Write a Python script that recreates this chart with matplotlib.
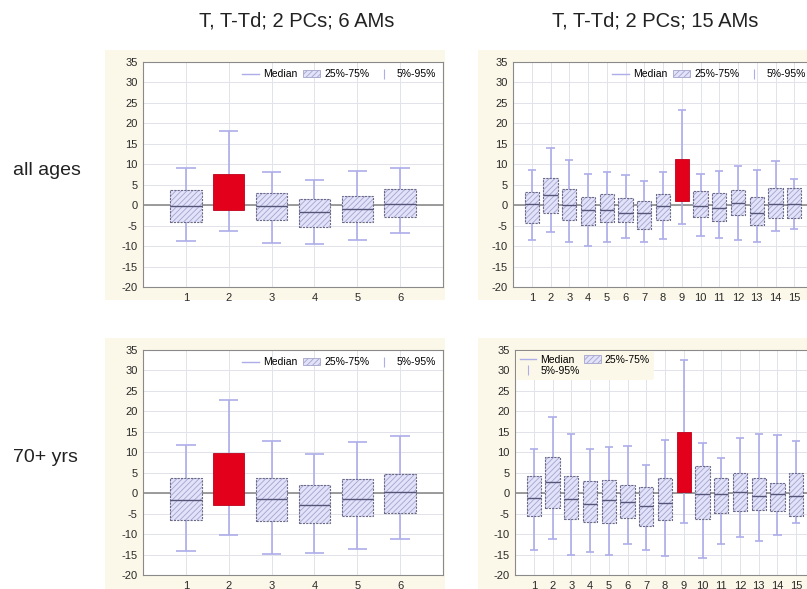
import matplotlib
matplotlib.use("Agg")
import matplotlib.pyplot as plt
from matplotlib.lines import Line2D
from matplotlib.patches import Patch, Rectangle
import numpy as np

plt.rcParams["font.family"] = ["Liberation Sans", "DejaVu Sans"]
plt.rcParams["hatch.linewidth"] = 0.6
plt.rcParams["axes.unicode_minus"] = False

col_titles = ["T, T-Td; 2 PCs; 6 AMs", "T, T-Td; 2 PCs; 15 AMs"]
row_titles = ["all ages", "70+ yrs"]
highlight = [2, 9]  # 6-AM panel, 15-AM panel

# all ages, 6 AMs
p1_q3 = [3.6, 7.7, 3.1, 1.5, 2.3, 4.0]
p1_q1 = [-4.1, -1.1, -3.7, -5.3, -4.1, -2.8]
p1_med = [-0.3, 3.0, -0.3, -1.6, -1.0, 0.3]
p1_hi = [9.2, 18.2, 8.0, 6.1, 8.3, 9.2]
p1_lo = [-8.7, -6.4, -9.3, -9.5, -8.4, -6.7]

# all ages, 15 AMs
p2_q3 = [3.3, 6.7, 4.0, 1.9, 2.7, 1.7, 1.1, 2.7, 11.3, 3.5, 2.9, 3.7, 1.9, 4.1, 4.3]
p2_q1 = [-4.3, -1.8, -3.6, -4.9, -4.1, -4.2, -5.7, -3.7, 1.1, -3.0, -3.8, -2.3, -4.9, -3.2, -3.2]
p2_med = [0.2, 2.4, 0.1, -1.2, -1.1, -1.8, -2.0, -0.2, 6.0, -0.1, -0.6, 0.6, -1.8, 0.3, 0.4]
p2_hi = [8.6, 14.1, 11.0, 7.7, 8.1, 7.4, 5.8, 8.0, 23.2, 7.6, 8.4, 9.5, 8.5, 10.8, 6.4]
p2_lo = [-8.4, -6.5, -9.1, -9.9, -9.0, -8.0, -9.1, -8.3, -4.5, -7.5, -7.9, -8.4, -9.0, -6.3, -5.9]

# 70+ yrs, 6 AMs
p3_q3 = [3.7, 9.9, 3.7, 1.9, 3.4, 4.7]
p3_q1 = [-6.5, -2.9, -6.7, -7.4, -5.5, -4.9]
p3_med = [-1.7, 3.0, -1.4, -2.8, -1.4, 0.2]
p3_hi = [11.8, 22.8, 12.7, 9.6, 12.5, 14.0]
p3_lo = [-14.2, -10.2, -14.9, -14.5, -13.7, -11.1]

# 70+ yrs, 15 AMs
p4_q3 = [4.1, 8.9, 4.2, 2.9, 3.3, 2.0, 1.5, 3.6, 15.0, 6.7, 3.7, 5.0, 3.7, 2.6, 5.0]
p4_q1 = [-5.6, -3.5, -6.4, -7.0, -7.2, -6.1, -8.1, -6.6, 0.4, -6.2, -4.8, -4.3, -4.2, -4.4, -5.5]
p4_med = [-1.1, 2.7, -1.3, -2.6, -1.7, -2.1, -3.1, -2.4, 7.0, -0.3, -0.1, 0.2, -0.8, -0.2, -0.7]
p4_hi = [10.9, 18.7, 14.4, 10.8, 11.2, 11.5, 7.0, 13.0, 32.6, 12.2, 8.6, 13.5, 14.5, 14.3, 12.7]
p4_lo = [-14.0, -11.2, -15.2, -14.3, -15.0, -12.5, -13.9, -15.3, -7.2, -15.8, -12.3, -10.7, -11.6, -10.1, -7.3]

CREAM = "#fcf8e9"
FILL = "#e2e2fa"
HATCH_C = "#a4a4cc"
WHISK = "#adadea"
EDGE = "#6a6a88"
RED = "#e2001a"

fig = plt.figure(figsize=(8.07, 5.89), dpi=100)
fig.patch.set_facecolor("white")

# cream panel backgrounds (figure fraction)
for (x0, y0, w, h) in [(105, 50, 340, 250), (478, 50, 340, 250),
                       (105, 338, 340, 260), (478, 338, 340, 260)]:
    fig.patches.append(Rectangle((x0 / 807, 1 - (y0 + h) / 589), w / 807, h / 589,
                                 transform=fig.transFigure, facecolor=CREAM,
                                 edgecolor="none", zorder=-10))


def panel(rect, q1, q3, med, lo, hi, hl, legend_mode):
    ax = fig.add_axes(rect)
    ax.set_zorder(1)
    ax.set_facecolor("white")
    n = len(q1)
    x = np.arange(1, n + 1)
    q1 = np.array(q1); q3 = np.array(q3)
    bw = 0.73 if n < 10 else 0.76
    cw = 0.45
    ax.axhline(0, color="#8c8c8c", lw=1.2, zorder=1)
    ax.vlines(x, lo, q1, color=WHISK, lw=1.2, zorder=2)
    ax.vlines(x, q3, hi, color=WHISK, lw=1.2, zorder=2)
    ax.hlines(lo, x - cw / 2, x + cw / 2, color=WHISK, lw=1.2, zorder=2)
    ax.hlines(hi, x - cw / 2, x + cw / 2, color=WHISK, lw=1.2, zorder=2)
    normal = x != hl
    ax.bar(x[normal], (q3 - q1)[normal], bottom=q1[normal], width=bw,
           color=FILL, hatch="//////", edgecolor=HATCH_C, lw=0, zorder=3)
    ax.bar(x[normal], (q3 - q1)[normal], bottom=q1[normal], width=bw,
           fill=False, edgecolor=EDGE, lw=0.8, linestyle=(0, (2, 1)), zorder=4)
    ax.hlines(np.array(med)[normal], x[normal] - bw / 2, x[normal] + bw / 2,
              color="#55557a", lw=1.0, zorder=5)
    ax.bar(x[~normal], (q3 - q1)[~normal], bottom=q1[~normal], width=bw,
           color=RED, edgecolor="#c0001a", lw=0.6, zorder=4)

    ax.set_xlim(0, n + 1)
    ax.set_ylim(-20, 35)
    ax.set_yticks(np.arange(-20, 36, 5))
    ax.set_xticks(x)
    ax.grid(True, color="#e2e2ea", lw=0.7, zorder=0)
    ax.set_axisbelow(True)
    ax.tick_params(length=0, labelsize=8, labelcolor="#2a2a2a", pad=4)
    for s in ax.spines.values():
        s.set_color("#8a8a8a")
        s.set_linewidth(0.8)

    h_med = Line2D([], [], color=WHISK, lw=1.0)
    h_box = Patch(facecolor=FILL, hatch="//////", edgecolor=HATCH_C, lw=0.6)
    h_whis = Line2D([], [], color=WHISK, lw=0, marker="|", markersize=7,
                    markeredgewidth=0.8)
    if legend_mode == "row":
        ax.legend([h_med, h_box, h_whis], ["Median", "25%-75%", "5%-95%"],
                  ncol=3, loc="upper right", fontsize=7.5, frameon=False,
                  handlelength=1.6, handletextpad=0.4, columnspacing=0.6,
                  borderaxespad=0.3)
    else:
        leg = ax.legend([h_med, h_whis, h_box], ["Median", "5%-95%", "25%-75%"],
                        ncol=2, loc="upper left", fontsize=7.5, frameon=True,
                        handlelength=1.6, handletextpad=0.4, columnspacing=0.4,
                        borderaxespad=0.05, labelspacing=0.1)
        leg.get_frame().set_facecolor(CREAM)
        leg.get_frame().set_edgecolor("none")
        leg.get_frame().set_alpha(1)
    return ax


top_b = (589 - 287) / 589
bot_b = (589 - 575) / 589
hgt = 225 / 589
panel([143 / 807, top_b, 300 / 807, hgt], p1_q1, p1_q3, p1_med, p1_lo, p1_hi,
      highlight[0], "row")
panel([513 / 807, top_b, 300 / 807, hgt], p2_q1, p2_q3, p2_med, p2_lo, p2_hi,
      highlight[1], "row")
panel([143 / 807, bot_b, 300 / 807, hgt], p3_q1, p3_q3, p3_med, p3_lo, p3_hi,
      highlight[0], "row")
panel([515 / 807, bot_b, 300 / 807, hgt], p4_q1, p4_q3, p4_med, p4_lo, p4_hi,
      highlight[1], "two")

fig.text(297 / 807, 1 - 21 / 589, col_titles[0], ha="center", va="center",
         fontsize=14.5, color="#222222")
fig.text(655 / 807, 1 - 21 / 589, col_titles[1], ha="center", va="center",
         fontsize=14.5, color="#222222")
fig.text(13 / 807, 1 - 170 / 589, row_titles[0], ha="left", va="center",
         fontsize=14, color="#222222")
fig.text(13 / 807, 1 - 457 / 589, row_titles[1], ha="left", va="center",
         fontsize=14, color="#222222")

fig.savefig("out.png", dpi=100, facecolor="white")
